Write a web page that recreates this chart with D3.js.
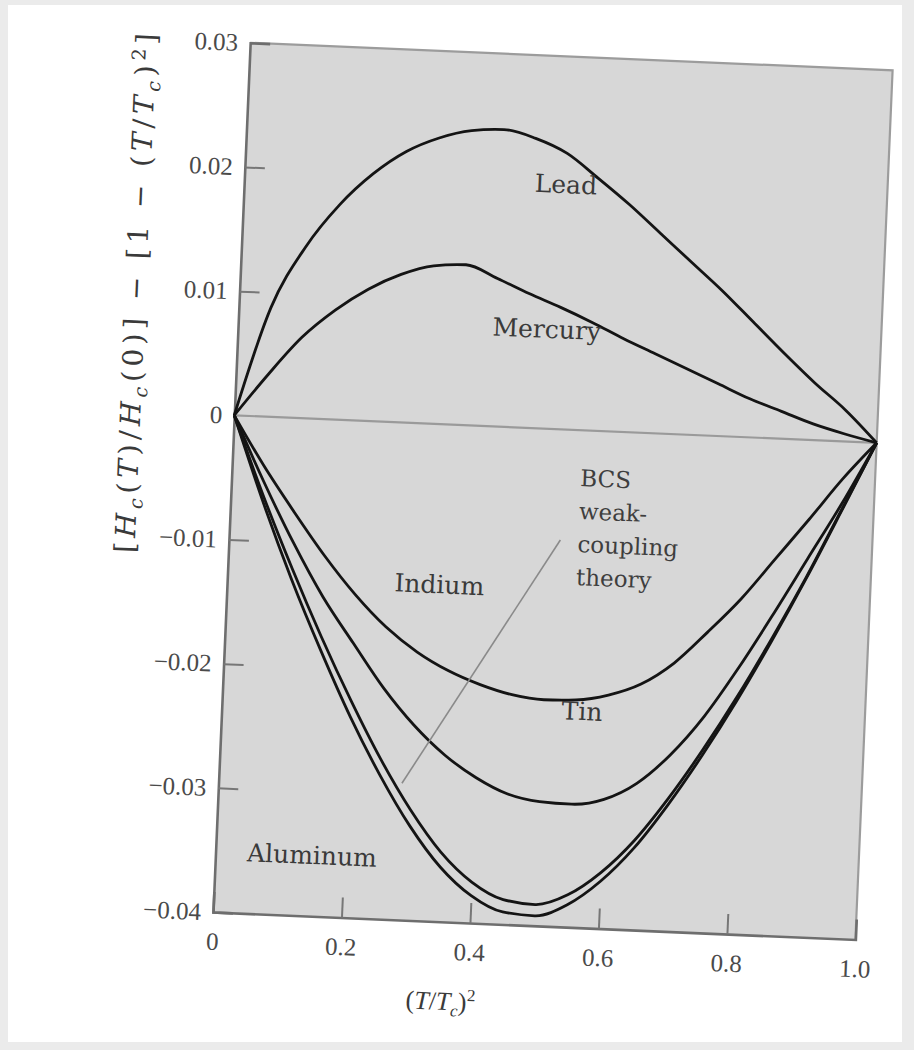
<!DOCTYPE html>
<html>
<head>
<meta charset="utf-8">
<script src="https://cdn.jsdelivr.net/npm/d3@7/dist/d3.min.js"></script>
<style>
  html, body { margin: 0; padding: 0; background: #ebebeb; }
  svg { display: block; }
</style>
</head>
<body>
<div id="chart"></div>
<script>
// ---- data ----
const tValues = [0, 0.05, 0.1, 0.15, 0.2, 0.25, 0.3, 0.35, 0.4, 0.45, 0.5,
                 0.55, 0.6, 0.65, 0.7, 0.75, 0.8, 0.85, 0.9, 0.95, 1.0];

const lead     = [0, 0.0088, 0.0138, 0.0173, 0.0199, 0.0218, 0.0230, 0.0237, 0.0239, 0.0233, 0.0222,
                  0.0203, 0.0183, 0.0161, 0.0139, 0.0117, 0.0093, 0.0069, 0.0046, 0.0025, 0];
const mercury  = [0, 0.0034, 0.0065, 0.0088, 0.0106, 0.0119, 0.0127, 0.0129, 0.0119, 0.0108, 0.0098,
                  0.0087, 0.0075, 0.0064, 0.0053, 0.0042, 0.0031, 0.0022, 0.0013, 0.0006, 0];
const indium   = [0, -0.0040, -0.0076, -0.0110, -0.0140, -0.0165, -0.0184, -0.0198, -0.0208, -0.0215, -0.0218,
                  -0.0217, -0.0212, -0.0202, -0.0184, -0.0158, -0.0130, -0.0097, -0.0064, -0.0030, 0];
const tin      = [0, -0.0052, -0.0100, -0.0143, -0.0179, -0.0214, -0.0243, -0.0266, -0.0283, -0.0295, -0.0300,
                  -0.0301, -0.0296, -0.0282, -0.0258, -0.0226, -0.0186, -0.0142, -0.0096, -0.0050, 0];
const aluminum = [0, -0.0068, -0.0130, -0.0186, -0.0238, -0.0284, -0.0324, -0.0356, -0.0378, -0.0390, -0.0392,
                  -0.0382, -0.0362, -0.0334, -0.0298, -0.0257, -0.0212, -0.0163, -0.0111, -0.0056, 0];
const bcs      = [0, -0.0063, -0.0121, -0.0175, -0.0225, -0.0271, -0.0311, -0.0344, -0.0367, -0.0380, -0.0383,
                  -0.0374, -0.0355, -0.0328, -0.0293, -0.0253, -0.0209, -0.0161, -0.0110, -0.0055, 0];

const xTicks = [0, 0.2, 0.4, 0.6, 0.8, 1.0];
const xTickLabels = ["0", "0.2", "0.4", "0.6", "0.8", "1.0"];
const yTicks = [0.03, 0.02, 0.01, 0, -0.01, -0.02, -0.03, -0.04];
const yTickLabels = ["0.03", "0.02", "0.01", "0", "\u22120.01", "\u22120.02", "\u22120.03", "\u22120.04"];

// curve labels, placed at (t, value)
const curveLabels = [
  { text: "Lead", t: 0.50, v: 0.0190 },
  { text: "Mercury", t: 0.48, v: 0.0073 },
  { text: "Indium", t: 0.33, v: -0.0136 },
  { text: "Tin", t: 0.56, v: -0.0233 },
  { text: "Aluminum", t: 0.15, v: -0.0358 },
];
const bcsLines = ["BCS", "weak-", "coupling", "theory"];
const bcsPointer = [[0.515, -0.0089], [0.285, -0.0290]];

// ---- layout ----
const width = 914, height = 1050;
const plot = { left: 213, right: 856, top: 42, bottom: 912 };
const tilt = 2.45; // the scan is slightly rotated

const svg = d3.select('#chart').append('svg')
    .attr('width', width)
    .attr('height', height);

// paper
svg.append('rect')
    .attr('x', 8).attr('y', 5)
    .attr('width', width - 20).attr('height', height - 13)
    .attr('fill', '#fff');

const g = svg.append('g')
    .attr('transform', `rotate(${tilt}, ${plot.left}, ${plot.bottom})`);

const x = d3.scaleLinear().domain([0, 1]).range([plot.left, plot.right]);
const y = d3.scaleLinear().domain([-0.04, 0.03]).range([plot.bottom, plot.top]);

// shaded plot panel
g.append('rect')
    .attr('x', x(0)).attr('y', y(0.03))
    .attr('width', x(1) - x(0)).attr('height', y(-0.04) - y(0.03))
    .attr('fill', '#d7d7d7');

// top and right frame
g.append('path')
    .attr('d', `M${x(0)},${y(0.03)}H${x(1)}V${y(-0.04)}`)
    .attr('fill', 'none')
    .attr('stroke', '#9c9c9c')
    .attr('stroke-width', 2.2);

// axes
const fontSerif = '"Liberation Serif", "Times New Roman", serif';
const fontWide = '"DejaVu Serif", serif';

const yAxis = g.append('g')
    .attr('transform', `translate(${x(0)},0)`)
    .call(d3.axisLeft(y).tickValues(yTicks)
        .tickFormat((d, i) => yTickLabels[i])
        .tickSize(-20).tickPadding(12));

const xAxis = g.append('g')
    .attr('transform', `translate(0,${y(-0.04)})`)
    .call(d3.axisBottom(x).tickValues(xTicks)
        .tickFormat((d, i) => xTickLabels[i])
        .tickSize(-20).tickPadding(20));

[yAxis, xAxis].forEach(ax => {
    ax.select('.domain').attr('stroke', '#6e6e6e').attr('stroke-width', 2.6);
    ax.selectAll('.tick line').attr('stroke', '#777').attr('stroke-width', 2);
    ax.selectAll('.tick text')
        .attr('fill', '#4a4a4a')
        .style('font-family', fontSerif)
        .style('font-size', '25px');
});
// no tick marks at the ends / origin
yAxis.selectAll('.tick').filter(d => d === 0.03 || d === -0.04 || d === 0).select('line').remove();
xAxis.selectAll('.tick').filter(d => d === 0 || d === 1).select('line').remove();

// zero line
g.append('line')
    .attr('x1', x(0)).attr('x2', x(1))
    .attr('y1', y(0)).attr('y2', y(0))
    .attr('stroke', '#9a9a9a')
    .attr('stroke-width', 2.2);

// curves
const line = d3.line()
    .x((d, i) => x(tValues[i]))
    .y(d => y(d))
    .curve(d3.curveMonotoneX);

const series = [lead, mercury, indium, tin, aluminum, bcs];
g.append('g').selectAll('path')
    .data(series)
    .join('path')
    .attr('d', d => line(d))
    .attr('fill', 'none')
    .attr('stroke', '#141414')
    .attr('stroke-width', 2.8)
    .attr('stroke-linejoin', 'round');

// BCS pointer
g.append('line')
    .attr('x1', x(bcsPointer[0][0])).attr('y1', y(bcsPointer[0][1]))
    .attr('x2', x(bcsPointer[1][0])).attr('y2', y(bcsPointer[1][1]))
    .attr('stroke', '#8a8a8a')
    .attr('stroke-width', 1.6);

// curve labels
g.append('g').selectAll('text')
    .data(curveLabels)
    .join('text')
    .attr('x', d => x(d.t))
    .attr('y', d => y(d.v))
    .attr('text-anchor', 'middle')
    .attr('fill', '#3a3a3a')
    .style('font-family', fontWide)
    .style('font-size', '25px')
    .text(d => d.text);

const bcsText = g.append('text')
    .attr('y', y(-0.0045))
    .attr('fill', '#3e3e3e')
    .style('font-family', fontWide)
    .style('font-size', '23px');
bcsText.selectAll('tspan')
    .data(bcsLines)
    .join('tspan')
    .attr('x', x(0.542))
    .attr('dy', (d, i) => i === 0 ? 0 : 33)
    .text(d => d);

// y title
const yTitle = g.append('text')
    .attr('transform', `translate(119,297) rotate(-90)`)
    .attr('text-anchor', 'middle')
    .attr('fill', '#3a3a3a')
    .attr('textLength', 520)
    .attr('lengthAdjust', 'spacing')
    .style('font-family', fontWide)
    .style('font-size', '28px');
yTitle.append('tspan').text('[');
yTitle.append('tspan').attr('font-style', 'italic').text('H');
yTitle.append('tspan').attr('font-style', 'italic').attr('dy', 6).attr('font-size', '19px').text('c');
yTitle.append('tspan').attr('dy', -6).text('(');
yTitle.append('tspan').attr('font-style', 'italic').text('T');
yTitle.append('tspan').text(')/');
yTitle.append('tspan').attr('font-style', 'italic').text('H');
yTitle.append('tspan').attr('font-style', 'italic').attr('dy', 6).attr('font-size', '19px').text('c');
yTitle.append('tspan').attr('dy', -6).text('(0)] \u2212 [1 \u2212 (');
yTitle.append('tspan').attr('font-style', 'italic').text('T');
yTitle.append('tspan').text('/');
yTitle.append('tspan').attr('font-style', 'italic').text('T');
yTitle.append('tspan').attr('font-style', 'italic').attr('dy', 6).attr('font-size', '19px').text('c');
yTitle.append('tspan').attr('dy', -6).text(')');
yTitle.append('tspan').attr('dy', -10).attr('font-size', '19px').text('2');
yTitle.append('tspan').attr('dy', 10).text(']');

// x title
const xTitle = g.append('text')
    .attr('x', 444)
    .attr('y', 1000)
    .attr('text-anchor', 'middle')
    .attr('fill', '#3a3a3a')
    .style('font-family', fontSerif)
    .style('font-size', '26px');
xTitle.append('tspan').text('(');
xTitle.append('tspan').attr('font-style', 'italic').text('T');
xTitle.append('tspan').text('/');
xTitle.append('tspan').attr('font-style', 'italic').text('T');
xTitle.append('tspan').attr('font-style', 'italic').attr('dy', 6).attr('font-size', '17px').text('c');
xTitle.append('tspan').attr('dy', -6).text(')');
xTitle.append('tspan').attr('dy', -10).attr('font-size', '17px').text('2');
</script>
</body>
</html>
